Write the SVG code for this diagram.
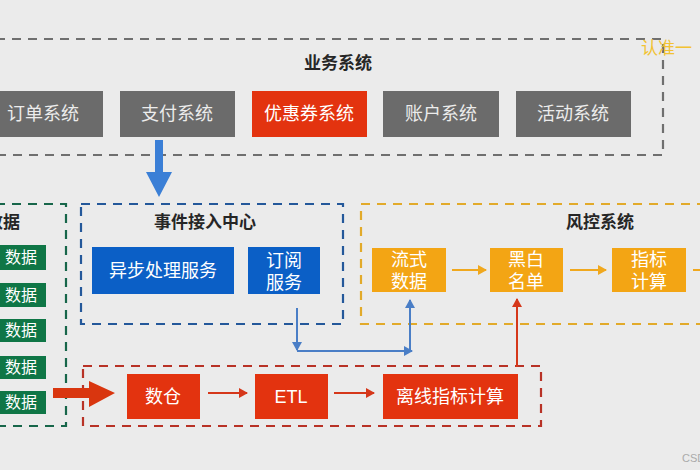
<svg xmlns="http://www.w3.org/2000/svg" width="700" height="470" viewBox="0 0 700 470">
<defs>
<style>
text{font-family:"Liberation Sans","Noto Sans CJK SC",sans-serif;}
.title{font-size:17px;font-weight:bold;fill:#262626;text-anchor:middle;}
.lbl{font-size:18px;fill:#ffffff;text-anchor:middle;}
.lblg{font-size:18px;fill:#ececec;text-anchor:middle;}
.gray{fill:#6b6b6b;}
.red{fill:#e3330f;}
.blue{fill:#0b5fc6;}
.green{fill:#0f7646;}
.yel{fill:#f3a514;}
.dash{fill:none;stroke-width:2.2;stroke-dasharray:9 7;}
</style>
<marker id="ay" markerWidth="10" markerHeight="10" refX="8" refY="5" orient="auto" markerUnits="userSpaceOnUse"><path d="M0,0 L9,5 L0,10 Z" fill="#f0a81e"/></marker>
<marker id="ar" markerWidth="10" markerHeight="10" refX="8" refY="5" orient="auto" markerUnits="userSpaceOnUse"><path d="M0,0 L9,5 L0,10 Z" fill="#d5371a"/></marker>
<marker id="ab" markerWidth="10" markerHeight="10" refX="8" refY="5" orient="auto" markerUnits="userSpaceOnUse"><path d="M0,0 L9,5 L0,10 Z" fill="#4a7ec6"/></marker>
</defs>
<rect width="700" height="470" fill="#ebebeb"/>

<g id="biz-frame">
<rect class="dash" x="-20" y="39" width="683" height="116" stroke="#6f6f6f"/>
<text class="title" x="338" y="69">业务系统</text>
</g>
<text x="641" y="54" font-size="17" fill="#f2c232">认准一</text>

<g id="order"><rect class="gray" x="-17" y="91" width="120" height="46"/><text class="lblg" x="43" y="120">订单系统</text></g>
<g id="pay"><rect class="gray" x="120" y="91" width="115" height="46"/><text class="lblg" x="177" y="120">支付系统</text></g>
<g id="coupon"><rect class="red" x="252" y="91" width="115" height="46"/><text class="lbl" x="309" y="120">优惠券系统</text></g>
<g id="account"><rect class="gray" x="383" y="91" width="116" height="46"/><text class="lblg" x="441" y="120">账户系统</text></g>
<g id="activity"><rect class="gray" x="516" y="91" width="115" height="46"/><text class="lblg" x="573" y="120">活动系统</text></g>

<g id="data-frame">
<rect class="dash" x="-20" y="204" width="86" height="222" stroke="#17664a"/>
<text class="title" x="20" y="228" style="text-anchor:end">数据</text>
</g>
<g id="d1"><rect class="green" x="-10" y="245" width="56" height="25"/><text x="37" y="263" font-size="16" fill="#fff" text-anchor="end">数据</text></g>
<g id="d2"><rect class="green" x="-10" y="283" width="56" height="24"/><text x="37" y="301" font-size="16" fill="#fff" text-anchor="end">数据</text></g>
<g id="d3"><rect class="green" x="-10" y="319" width="56" height="23"/><text x="37" y="336" font-size="16" fill="#fff" text-anchor="end">数据</text></g>
<g id="d4"><rect class="green" x="-10" y="356" width="56" height="23"/><text x="37" y="373" font-size="16" fill="#fff" text-anchor="end">数据</text></g>
<g id="d5"><rect class="green" x="-10" y="391" width="56" height="23"/><text x="37" y="408" font-size="16" fill="#fff" text-anchor="end">数据</text></g>

<g id="event-frame">
<rect class="dash" x="81" y="204" width="262" height="120" stroke="#24589a"/>
<text class="title" x="205" y="228">事件接入中心</text>
</g>
<g id="async"><rect class="blue" x="92" y="247" width="142" height="47"/><text class="lbl" x="163" y="277">异步处理服务</text></g>
<g id="subscribe"><rect class="blue" x="248" y="247" width="72" height="47"/><text class="lbl" x="284" y="267">订阅</text><text class="lbl" x="284" y="289">服务</text></g>

<g id="risk-frame">
<rect class="dash" x="361" y="204" width="360" height="120" stroke="#e2aa2a"/>
<text class="title" x="600" y="228">风控系统</text>
</g>
<g id="stream"><rect class="yel" x="372" y="248" width="74" height="44"/><text class="lbl" x="409" y="266">流式</text><text class="lbl" x="409" y="288">数据</text></g>
<g id="blackwhite"><rect class="yel" x="490" y="248" width="73" height="44"/><text class="lbl" x="526" y="266">黑白</text><text class="lbl" x="526" y="288">名单</text></g>
<g id="metric"><rect class="yel" x="612" y="248" width="74" height="44"/><text class="lbl" x="649" y="266">指标</text><text class="lbl" x="649" y="288">计算</text></g>

<g id="offline-frame">
<rect class="dash" x="83" y="366" width="458" height="60" stroke="#b83226"/>
</g>
<g id="dw"><rect class="red" x="127" y="374" width="73" height="45"/><text class="lbl" x="163" y="403">数仓</text></g>
<g id="etl"><rect class="red" x="255" y="374" width="73" height="45"/><text class="lbl" x="291" y="403">ETL</text></g>
<g id="offline"><rect class="red" x="383" y="374" width="135" height="45"/><text class="lbl" x="450" y="403">离线指标计算</text></g>

<g id="connectors">
<path d="M155,140 H163 V172 H172 L159,197 L146,172 H155 Z" fill="#3b7fd6"/>
<path d="M53,388 H89 V381 L115,393 L89,407 V398 H53 Z" fill="#d9360f"/>
<line x1="452" y1="270" x2="486" y2="270" stroke="#f0a81e" stroke-width="2" marker-end="url(#ay)"/>
<line x1="570" y1="270" x2="606" y2="270" stroke="#f0a81e" stroke-width="2" marker-end="url(#ay)"/>
<line x1="693" y1="270" x2="702" y2="270" stroke="#f0a81e" stroke-width="2"/>
<line x1="208" y1="393" x2="247" y2="393" stroke="#d5371a" stroke-width="2" marker-end="url(#ar)"/>
<line x1="334" y1="393" x2="374" y2="393" stroke="#d5371a" stroke-width="2" marker-end="url(#ar)"/>
<line x1="517" y1="367" x2="517" y2="299" stroke="#d5371a" stroke-width="2" marker-end="url(#ar)"/>
<line x1="297" y1="308" x2="297" y2="350" stroke="#4a7ec6" stroke-width="2" marker-end="url(#ab)"/>
<line x1="297" y1="351" x2="412" y2="351" stroke="#4a7ec6" stroke-width="2" marker-end="url(#ab)"/>
<line x1="410" y1="351" x2="410" y2="300" stroke="#4a7ec6" stroke-width="2" marker-end="url(#ab)"/>
</g>
<text x="682" y="462" font-size="11" fill="#aaaaaa">CSDN</text>
</svg>
